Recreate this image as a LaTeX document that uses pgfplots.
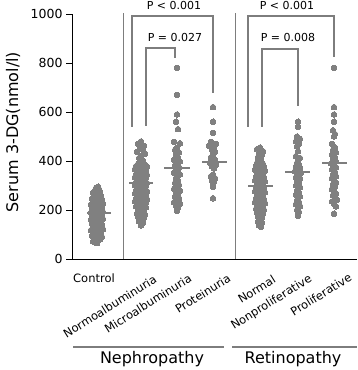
\documentclass[border=0pt]{standalone}
\usepackage{pgfplots}
\pgfplotsset{compat=1.18}
\usepackage{fontspec}
\setmainfont{DejaVu Sans}
\definecolor{dotgray}{RGB}{128,128,128}
\definecolor{linegray}{RGB}{125,125,125}
\begin{document}
\begin{tikzpicture}[x=1pt,y=1pt]
\begin{axis}[
  at={(72pt,111pt)}, anchor=south west,
  scale only axis, width=285pt, height=245pt,
  xmin=0, xmax=285, ymin=0, ymax=1000,
  axis x line=bottom, axis y line=left,
  axis line style={-, black, line width=0.8pt},
  xtick=\empty, ytick={0,200,400,600,800,1000},
  tick align=outside, major tick length=6pt,
  ytick style={black, line width=0.8pt},
  yticklabel style={font=\fontsize{12.5}{14}\selectfont, text=black},
  /pgf/number format/assume math mode=true,
  /pgf/number format/1000 sep={},
  clip=false,
  dots/.style={only marks, mark=*, mark size=2.8pt, mark options={fill=dotgray, draw=dotgray, line width=0pt}},
  med/.style={no marks, linegray, line width=2.2pt},
  br/.style={no marks, linegray, line width=1.2pt, sharp plot},
]
% separators
\addplot[no marks, linegray, line width=0.8pt] coordinates {(51,0)(51,1005)};
\addplot[no marks, linegray, line width=0.8pt] coordinates {(163,0)(163,1005)};
% Control
\addplot[dots] coordinates {(25,65)(21,72)(28,80)(23,85)(30,90)(20,95)(27,98)(24,102)(29,105)(22,110)(26,115)(19,118)(31,122)(25,125)(21,130)(28,133)(23,136)(30,140)(20,143)(27,146)(24,150)(29,152)(22,155)(26,158)(19,160)(31,163)(25,165)(21,168)(28,170)(23,172)(30,175)(20,177)(27,180)(24,182)(29,185)(22,187)(26,188)(19,190)(31,192)(25,195)(21,197)(28,200)(23,202)(30,205)(20,208)(27,210)(24,213)(29,215)(22,218)(26,220)(19,223)(31,226)(25,230)(21,233)(28,236)(23,240)(30,243)(20,247)(27,250)(24,255)(29,258)(22,262)(26,265)(21,270)(28,275)(23,280)(27,285)(24,290)(26,295)};
% Normoalbuminuria
\addplot[dots] coordinates {(69,480)(66,470)(72,462)(68,452)(71,445)(65,438)(73,430)(69,422)(67,412)(71,402)(66,388)(73,385)(69,382)(64,379)(75,376)(67,373)(71,370)(63,367)(74,364)(68,361)(70,358)(65,355)(73,352)(69,349)(64,346)(75,343)(67,340)(71,337)(63,334)(74,331)(68,328)(70,325)(65,322)(73,319)(69,316)(64,313)(75,310)(67,307)(71,304)(63,301)(74,298)(68,295)(70,292)(65,289)(73,286)(69,283)(64,280)(75,277)(67,274)(71,271)(63,268)(74,265)(68,262)(70,259)(65,256)(73,253)(69,250)(64,247)(75,244)(67,241)(71,238)(63,235)(74,232)(68,229)(70,226)(65,223)(73,220)(69,217)(64,214)(74,211)(67,208)(71,205)(66,200)(72,196)(68,192)(70,188)(65,184)(73,180)(69,176)(66,172)(72,168)(68,163)(70,158)(67,153)(71,148)(69,143)(69,137)};
% Microalbuminuria
\addplot[dots] coordinates {(105,780)(105,670)(105,590)(104,560)(106,530)(102,478)(108,472)(105,455)(103,445)(107,435)(104,425)(106,415)(102,405)(108,398)(105,390)(103,382)(107,375)(104,368)(106,360)(102,352)(108,345)(105,338)(104,330)(106,320)(103,310)(107,302)(105,294)(102,286)(108,278)(104,270)(106,262)(103,255)(107,248)(105,240)(102,232)(108,225)(104,218)(106,210)(105,203)(105,196)};
% Proteinuria
\addplot[dots] coordinates {(141,620)(141,560)(141,515)(139,478)(144,470)(137,462)(142,455)(140,445)(143,438)(141,425)(139,415)(143,405)(141,400)(138,392)(144,385)(140,378)(142,370)(141,345)(139,338)(143,330)(140,322)(142,315)(141,305)(141,295)(141,248)};
% Normal
\addplot[dots] coordinates {(188,455)(185,448)(191,440)(187,432)(190,425)(186,415)(189,405)(187,398)(185,392)(191,388)(188,384)(184,380)(192,376)(186,372)(190,368)(183,364)(193,360)(187,356)(189,352)(185,348)(191,344)(188,340)(184,336)(192,332)(186,328)(190,324)(183,320)(193,316)(187,312)(189,308)(185,304)(191,300)(188,296)(184,292)(192,288)(186,284)(190,280)(183,276)(193,272)(187,268)(189,264)(185,260)(191,256)(188,252)(184,248)(192,244)(186,240)(190,236)(183,232)(193,228)(187,224)(189,220)(185,216)(191,212)(188,208)(184,204)(192,200)(186,196)(190,192)(185,188)(191,184)(187,180)(189,176)(186,172)(190,168)(188,164)(187,160)(189,156)(186,152)(190,148)(188,144)(187,138)(189,132)};
% Nonproliferative
\addplot[dots] coordinates {(226,560)(226,540)(225,500)(228,490)(224,480)(227,470)(225,460)(226,440)(224,420)(228,412)(226,404)(225,392)(227,385)(224,378)(228,372)(226,365)(223,358)(229,352)(225,346)(227,340)(224,334)(228,328)(226,322)(225,315)(227,308)(224,300)(228,293)(226,286)(225,278)(227,270)(224,262)(228,255)(226,248)(225,240)(227,232)(224,224)(228,216)(226,208)(225,200)(227,192)(226,184)(226,176)};
% Proliferative
\addplot[dots] coordinates {(262,780)(262,620)(262,590)(262,560)(261,525)(263,510)(262,500)(260,470)(263,455)(261,445)(264,435)(260,425)(263,415)(261,405)(264,398)(259,390)(262,382)(264,375)(260,365)(263,355)(261,345)(264,338)(260,330)(262,320)(264,312)(261,305)(263,295)(260,285)(262,275)(264,268)(261,260)(263,250)(265,242)(260,235)(262,225)(264,215)(262,185)};
% medians
\addplot[med] coordinates {(15,188)(39,188)};
\addplot[med] coordinates {(57,310)(81,310)};
\addplot[med] coordinates {(92,371)(118,371)};
\addplot[med] coordinates {(130,396)(155,396)};
\addplot[med] coordinates {(176,298)(201,298)};
\addplot[med] coordinates {(213,355)(238,355)};
\addplot[med] coordinates {(250,392)(275,392)};
% brackets
\addplot[br] coordinates {(60,539)(60,992)(141,992)(141,678)};
\addplot[br] coordinates {(74,543)(74,861)(103,861)(103,820)};
\addplot[br] coordinates {(176,539)(176,992)(262,992)(262,825)};
\addplot[br] coordinates {(190,539)(190,857)(226,857)(226,624)};
\end{axis}
\begin{scope}[every node/.style={inner sep=0pt, text=black}]
\node[anchor=base, rotate=90] at (18,238) {\fontsize{16}{18}\selectfont Serum 3-DG(nmol/l)};
\node[anchor=base] at (174,360) {\fontsize{11}{13}\selectfont P < 0.001};
\node[anchor=base] at (175,328) {\fontsize{11}{13}\selectfont P = 0.027};
\node[anchor=base] at (287,360) {\fontsize{11}{13}\selectfont P < 0.001};
\node[anchor=base] at (288,328) {\fontsize{11}{13}\selectfont P = 0.008};
\node[anchor=base west] at (73,87) {\fontsize{11.5}{13}\selectfont Control};
\node[anchor=north east, rotate=32] at (153,96) {\fontsize{11.5}{13}\selectfont Normoalbuminuria};
\node[anchor=north east, rotate=32] at (188,97) {\fontsize{11.5}{13}\selectfont Microalbuminuria};
\node[anchor=north east, rotate=32] at (227,97) {\fontsize{11.5}{13}\selectfont Proteinuria};
\node[anchor=north east, rotate=32] at (272,96) {\fontsize{11.5}{13}\selectfont Normal};
\node[anchor=north east, rotate=32] at (308,97) {\fontsize{11.5}{13}\selectfont Nonproliferative};
\node[anchor=north east, rotate=32] at (348,98) {\fontsize{11.5}{13}\selectfont Proliferative};
\draw[linegray, line width=1.2pt] (73,23) -- (224,23);
\draw[linegray, line width=1.2pt] (232,23) -- (357,23);
\node[anchor=base] at (152,6.3) {\fontsize{16}{18}\selectfont Nephropathy};
\node[anchor=base] at (293,6.3) {\fontsize{16}{18}\selectfont Retinopathy};
\end{scope}
\pgfresetboundingbox
\useasboundingbox (0,0) rectangle (357,370);
\end{tikzpicture}
\end{document}
